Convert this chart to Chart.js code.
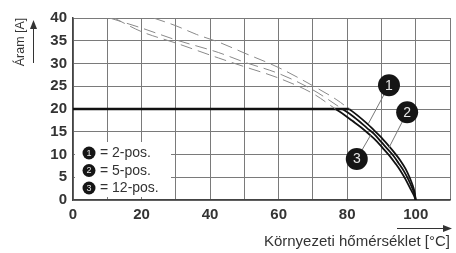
<!DOCTYPE html>
<html>
<head>
<meta charset="utf-8">
<script src="https://cdn.jsdelivr.net/npm/chart.js@4.4.1/dist/chart.umd.min.js"></script>
<style>
  html, body { margin: 0; padding: 0; background: #fff; }
  #wrap { width: 456px; height: 253px; position: relative; }
</style>
</head>
<body>
<div id="wrap"><canvas id="derating"></canvas></div>
<script>
/* ---- data ---- */

// capped current (all variants)
const capTemp = [0, 80.6];
const capAmp = [20, 20];

// curve 1 = 2-pos (outer)
const c1DashTemp = [23.5, 30, 36, 42.5, 50, 60, 70, 77, 80.6];
const c1DashAmp = [40, 38.3, 36.4, 34.7, 32.3, 29.1, 25.1, 22, 20];
const c1Temp = [80.6, 83, 85.5, 88, 90, 92, 94, 95.5, 97, 98.2, 99.2, 99.7, 100];
const c1Amp = [20, 18.6, 17.0, 15.2, 13.7, 12.0, 10.2, 8.7, 6.9, 5.0, 3.0, 1.6, 0];

// curve 2 = 5-pos (middle)
const c2DashTemp = [10.7, 20, 30, 42.5, 50, 60, 70, 78.6];
const c2DashAmp = [40, 37.8, 35.2, 32.4, 30.3, 27.8, 24.2, 20];
const c2Temp = [78.6, 81, 83.5, 85.8, 87.9, 90, 92, 93.6, 95, 96.5, 97.8, 99, 99.6, 100];
const c2Amp = [20, 18.8, 17.3, 15.8, 14.5, 12.7, 11.0, 9.6, 8.1, 6.4, 4.6, 2.6, 1.4, 0];

// curve 3 = 12-pos (inner)
const c3DashTemp = [12, 20, 30, 42.5, 50, 60, 70, 76.6];
const c3DashAmp = [40, 37, 34.5, 31.2, 29.3, 26.8, 23.4, 20];
const c3Temp = [76.6, 79, 81.5, 84, 86.5, 88.5, 90.5, 92.5, 94, 95.5, 97, 98.5, 99.4, 100];
const c3Amp = [20, 18.8, 17.4, 16.0, 14.4, 13.0, 11.3, 9.6, 8.1, 6.5, 4.6, 2.4, 1.1, 0];

const legendLabels = ['= 2-pos.', '= 5-pos.', '= 12-pos.'];
const yTitle = 'Áram [A]';
const xTitle = 'Környezeti hőmérséklet [°C]';

// callout badges: number, badge centre, end of the leader (data units)
const callouts = [
    { n: '1', x: 92.2, y: 25.2, toX: 86.2, toY: 16.8 },
    { n: '2', x: 97.5, y: 19.3, toX: 92.2, toY: 11.5 },
    { n: '3', x: 82.8, y: 9.0, toX: 86.8, toY: 14.2 }
];

const TEXT = '#333';
const FONT = "'Liberation Sans', Arial, sans-serif";

function pts(xs, ys) {
    return xs.map((x, i) => ({ x: x, y: ys[i] }));
}

function dashed(xs, ys) {
    return {
        data: pts(xs, ys),
        borderColor: '#8a8a8a',
        borderWidth: 1,
        borderDash: [12, 6],
        cubicInterpolationMode: 'monotone',
        showLine: true,
        pointRadius: 0
    };
}

function solid(xs, ys) {
    return {
        data: pts(xs, ys),
        borderColor: '#111',
        borderWidth: 1.8,
        cubicInterpolationMode: 'monotone',
        showLine: true,
        pointRadius: 0
    };
}

function badge(ctx, x, y, r, text, size) {
    ctx.beginPath();
    ctx.arc(x, y, r, 0, Math.PI * 2);
    ctx.fillStyle = '#151515';
    ctx.fill();
    ctx.fillStyle = '#e6e6e6';
    ctx.font = size + 'px ' + FONT;
    ctx.textAlign = 'center';
    ctx.textBaseline = 'middle';
    ctx.fillText(text, x, y + 0.5);
}

// --- legend box, callouts, axis titles ---
const decorations = {
    id: 'decorations',
    beforeDatasetsDraw(chart) {
        const ctx = chart.ctx;
        const a = chart.chartArea;
        ctx.save();
        ctx.fillStyle = '#fff';
        ctx.fillRect(a.left + 2, 142, 96, 55);
        legendLabels.forEach((txt, i) => {
            const cy = 153 + i * 17.5;
            badge(ctx, a.left + 16, cy, 6.5, String(i + 1), 9);
            ctx.fillStyle = TEXT;
            ctx.font = '14px ' + FONT;
            ctx.textAlign = 'left';
            ctx.textBaseline = 'middle';
            ctx.fillText(txt, a.left + 27, cy + 0.5);
        });
        ctx.restore();
    },
    afterDatasetsDraw(chart) {
        const ctx = chart.ctx;
        const xs = chart.scales.x;
        const ys = chart.scales.y;
        ctx.save();
        callouts.forEach(c => {
            const bx = xs.getPixelForValue(c.x);
            const by = ys.getPixelForValue(c.y);
            ctx.beginPath();
            ctx.moveTo(bx, by);
            ctx.lineTo(xs.getPixelForValue(c.toX), ys.getPixelForValue(c.toY));
            ctx.strokeStyle = '#777';
            ctx.lineWidth = 1;
            ctx.stroke();
            badge(ctx, bx, by, 11, c.n, 14);
        });
        ctx.restore();
    },
    afterDraw(chart) {
        const ctx = chart.ctx;
        const a = chart.chartArea;
        ctx.save();
        ctx.fillStyle = TEXT;
        ctx.strokeStyle = TEXT;
        ctx.lineWidth = 1;

        // y title, rotated, with arrow
        ctx.save();
        ctx.translate(21, 42);
        ctx.rotate(-Math.PI / 2);
        ctx.font = '12.5px ' + FONT;
        ctx.textAlign = 'center';
        ctx.textBaseline = 'middle';
        ctx.fillText(yTitle, 0, 0);
        ctx.restore();
        ctx.beginPath();
        ctx.moveTo(33.5, 63);
        ctx.lineTo(33.5, 28);
        ctx.stroke();
        ctx.beginPath();
        ctx.moveTo(30, 29);
        ctx.lineTo(37, 29);
        ctx.lineTo(33.5, 20);
        ctx.closePath();
        ctx.fill();

        // x title, right aligned, with arrow
        ctx.font = '15px ' + FONT;
        ctx.textAlign = 'right';
        ctx.textBaseline = 'alphabetic';
        ctx.fillText(xTitle, a.right, 246);
        ctx.beginPath();
        ctx.moveTo(397, 228.5);
        ctx.lineTo(445, 228.5);
        ctx.stroke();
        ctx.beginPath();
        ctx.moveTo(443, 225);
        ctx.lineTo(443, 232);
        ctx.lineTo(452, 228.5);
        ctx.closePath();
        ctx.fill();
        ctx.restore();
    }
};

new Chart(document.getElementById('derating'), {
    type: 'scatter',
    data: {
        datasets: [
            dashed(c1DashTemp, c1DashAmp),
            dashed(c2DashTemp, c2DashAmp),
            dashed(c3DashTemp, c3DashAmp),
            Object.assign(solid(capTemp, capAmp), { borderWidth: 2.6 }),
            solid(c1Temp, c1Amp),
            solid(c2Temp, c2Amp),
            solid(c3Temp, c3Amp)
        ]
    },
    options: {
        responsive: true,
        maintainAspectRatio: false,
        animation: false,
        layout: { padding: { top: 18, right: 3, left: 0, bottom: 0 } },
        plugins: {
            legend: { display: false },
            tooltip: { enabled: false }
        },
        scales: {
            x: {
                type: 'linear',
                min: 0,
                max: 110,
                afterFit: s => { s.height = 53; },
                grid: { color: '#7a7a7a', lineWidth: 1, drawTicks: false },
                border: { color: '#444', width: 1.5 },
                ticks: {
                    stepSize: 10,
                    autoSkip: false,
                    maxRotation: 0,
                    padding: 6,
                    color: TEXT,
                    font: { family: FONT, size: 15, weight: 'bold' },
                    callback: v => (v % 20 === 0 && v <= 100) ? v : ''
                }
            },
            y: {
                min: 0,
                max: 40,
                afterFit: s => { s.width = 73; },
                grid: { color: '#7a7a7a', lineWidth: 1, drawTicks: false },
                border: { color: '#444', width: 1.5 },
                ticks: {
                    stepSize: 5,
                    padding: 6,
                    color: TEXT,
                    font: { family: FONT, size: 15, weight: 'bold' }
                }
            }
        }
    },
    plugins: [decorations]
});
</script>
</body>
</html>
